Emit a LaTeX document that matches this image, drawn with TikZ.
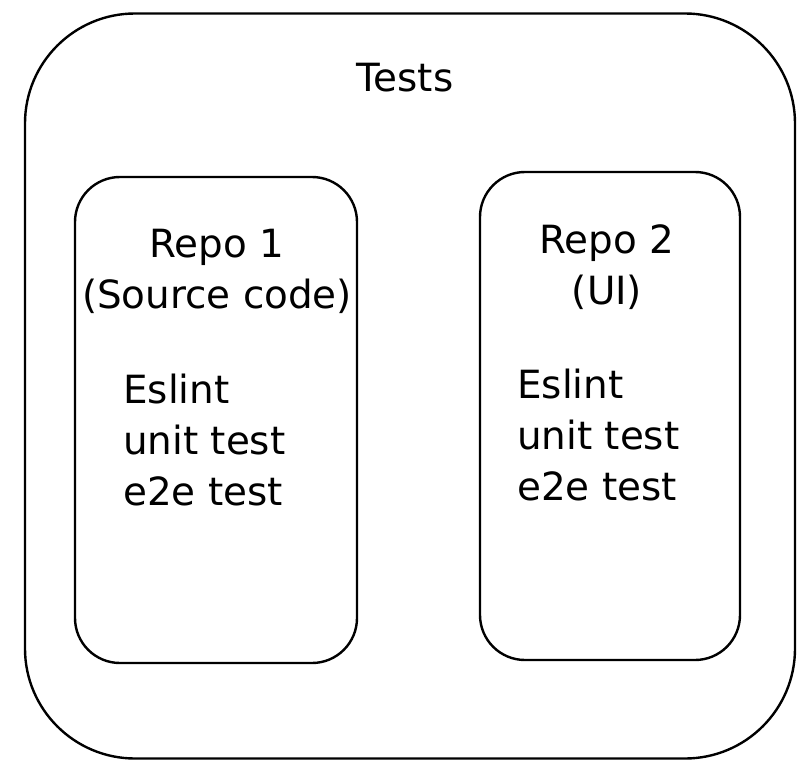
\documentclass[tikz,border=0pt]{standalone}
\usepackage{fontspec}
\setmainfont{DejaVu Sans}
\usepackage{tikz}
\usetikzlibrary{shapes, positioning}
\tikzstyle{frame}=[draw, rectangle, line width=2.4bp, rounded corners=110bp, minimum width=770bp, minimum height=745bp]
\tikzstyle{repobox}=[draw, rectangle, line width=2.4bp, rounded corners=45bp]
\tikzstyle{txt}=[font=\fontsize{39}{51}\selectfont, inner sep=0pt]
\def\R#1{Repo #1}

\begin{document}
\begin{tikzpicture}[x=1bp, y=-1bp]
		\useasboundingbox (0,0) rectangle (809,776);
		\node[frame] (T) at (410,386) {};
		\node[txt] (Tl) at (405,78) {Tests};
		\node[repobox, minimum width=282bp, minimum height=486bp] (A) at (216,420) {};
		\node[repobox, minimum width=260bp, minimum height=488bp] (B) at (610,416) {};
		\node[txt, align=center] (Al) at (217,271) {\R{1}\\(Source code)};
		\node[txt, align=center] (Bl) at (607,267) {\R{2}\\(UI)};
		\node[txt, align=left, anchor=west] (At) at (123,440) {Eslint\\unit test\\e2e test};
		\node[txt, align=left, anchor=west] (Bt) at (517,435) {Eslint\\unit test\\e2e test};
	\end{tikzpicture}
\end{document}
